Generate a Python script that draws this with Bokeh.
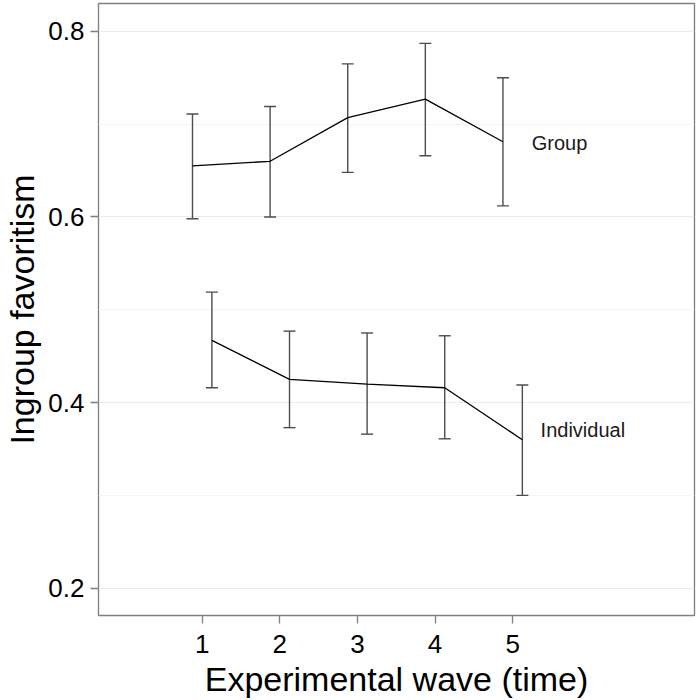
from bokeh.plotting import figure
from bokeh.models import ColumnDataSource, Whisker, FixedTicker, Range1d, TeeHead
from bokeh.core.properties import value
from bokeh.embed import file_html
from bokeh.resources import INLINE

waves = [1, 2, 3, 4, 5]
group_mean = [0.655, 0.660, 0.707, 0.727, 0.681]
group_upper = [0.711, 0.719, 0.765, 0.787, 0.750]
group_lower = [0.598, 0.600, 0.648, 0.666, 0.612]
indiv_mean = [0.467, 0.425, 0.420, 0.416, 0.360]
indiv_upper = [0.519, 0.477, 0.475, 0.472, 0.419]
indiv_lower = [0.416, 0.373, 0.366, 0.361, 0.300]
series_labels = ["Group", "Individual"]
y_ticks = [0.2, 0.4, 0.6, 0.8]
y_minor = [0.3, 0.5, 0.7]
dodge_w = 0.125

FONT = "Liberation Sans"

p = figure(width=692, height=692, output_backend="svg", toolbar_location=None,
           x_range=Range1d(-0.336, 7.343), y_range=Range1d(0.1706, 0.830),
           min_border_top=3, min_border_right=2, min_border_left=4, min_border_bottom=0)
p.frame_width = 596
p.frame_height = 612

gx = [w - dodge_w for w in waves]
ix = [w + dodge_w for w in waves]
gsrc = ColumnDataSource(dict(x=gx, m=group_mean, up=group_upper, lo=group_lower))
isrc = ColumnDataSource(dict(x=ix, m=indiv_mean, up=indiv_upper, lo=indiv_lower))

for src in (gsrc, isrc):
    w = Whisker(source=src, base="x", upper="up", lower="lo", dimension="height",
                line_color="#4d4d4d", line_width=1.4,
                upper_head=TeeHead(size=12, line_color="#4d4d4d", line_width=1.4),
                lower_head=TeeHead(size=12, line_color="#4d4d4d", line_width=1.4))
    p.add_layout(w)
    p.line("x", "m", source=src, line_color="black", line_width=1.3)

lab_src = ColumnDataSource(dict(x=[gx[-1] + 0.37, ix[-1] + 0.235],
                                y=[group_mean[-1] - 0.001, indiv_mean[-1] + 0.010],
                                t=series_labels))
p.text("x", "y", text="t", source=lab_src, text_font=value(FONT), text_font_size="20px",
       text_baseline="middle", text_align="left", text_color="#1a1a1a")

# axes
p.xaxis.ticker = FixedTicker(ticks=waves)
p.yaxis.ticker = FixedTicker(ticks=y_ticks, minor_ticks=y_minor)
p.yaxis.formatter.use_scientific = False
p.xaxis.axis_label = "Experimental wave (time)"
p.yaxis.axis_label = "Ingroup favoritism"
for ax in (p.xaxis, p.yaxis):
    ax.axis_label_text_font = FONT
    ax.axis_label_text_font_size = "34px"
    ax.axis_label_text_font_style = "normal"
    ax.axis_label_text_color = "black"
    ax.major_label_text_font = FONT
    ax.major_label_text_font_size = "26px"
    ax.major_label_text_color = "black"
    ax.axis_line_color = None
    ax.major_tick_line_color = "#7f7f7f"
    ax.major_tick_line_width = 1.3
    ax.major_tick_out = 8
    ax.major_tick_in = 0
    ax.minor_tick_line_color = None
p.xaxis.major_label_standoff = 11
p.yaxis.major_label_standoff = 6
p.xaxis.axis_label_standoff = 4
p.yaxis.axis_label_standoff = 4

p.xgrid.grid_line_color = None
p.ygrid.ticker = p.yaxis.ticker
p.ygrid.grid_line_color = "#ebebeb"
p.ygrid.grid_line_width = 1
p.ygrid.minor_grid_line_color = "#f4f4f4"
p.ygrid.minor_grid_line_width = 1

p.outline_line_color = "#7f7f7f"
p.outline_line_width = 1.3
p.background_fill_color = "white"
p.border_fill_color = "white"

open("out.html", "w").write(file_html(p, INLINE))
